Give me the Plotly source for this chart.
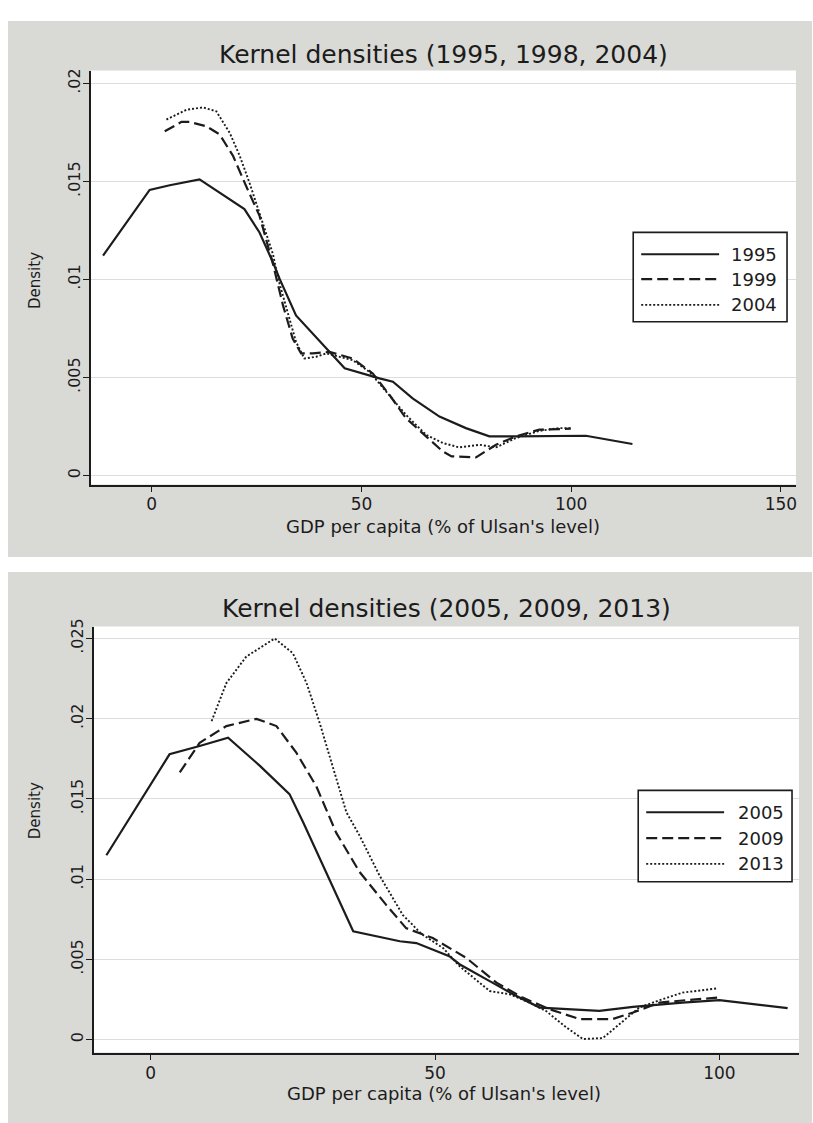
import plotly.graph_objects as go

W, H = 813, 1123

# ---- Upper panel: 1995, 1999, 2004 ----
top_title = "Kernel densities (1995, 1998, 2004)"
top_names = ["1995", "1999", "2004"]

gdp_1995 = [-11.6, -0.5, 4.3, 11.4, 22.1, 25.7, 28.9, 30.5, 34.4, 41.6, 46.0, 54.3,
            57.5, 62.2, 68.6, 74.9, 80.5, 86.8, 100.3, 103.5, 114.6]
den_1995 = [0.01122, 0.01457, 0.01481, 0.01511, 0.01359, 0.0124, 0.01088, 0.01003,
            0.00817, 0.00648, 0.00547, 0.00496, 0.00479, 0.00394, 0.00301, 0.00242,
            0.00200, 0.00200, 0.00200, 0.00203, 0.00161]

gdp_1999 = [3.1, 7.1, 9.0, 13.0, 16.2, 19.4, 22.5, 25.7, 28.9, 31.3, 33.6, 35.6, 38.4,
            42.4, 47.9, 52.7, 56.7, 60.6, 65.4, 69.4, 71.5, 77.3, 82.1, 86.8, 92.4, 99.9]
den_1999 = [0.01756, 0.01804, 0.01804, 0.01782, 0.0174, 0.0163, 0.01477, 0.01325,
            0.0108, 0.00868, 0.00699, 0.00623, 0.00623, 0.00631, 0.00597, 0.00521,
            0.00411, 0.00293, 0.00200, 0.00123, 0.00098, 0.00093, 0.00157, 0.00200,
            0.00234, 0.00239]

gdp_2004 = [3.5, 8.3, 12.2, 15.4, 18.6, 21.0, 23.3, 25.7, 28.9, 30.2, 32.1, 34.4, 36.4,
            39.2, 41.6, 47.9, 51.9, 56.7, 60.6, 65.4, 69.4, 73.3, 78.1, 82.1, 86.8,
            92.4, 97.1, 99.9]
den_2004 = [0.01816, 0.01866, 0.01878, 0.01858, 0.01748, 0.0163, 0.01494, 0.01342,
            0.0113, 0.0100, 0.00851, 0.00682, 0.00597, 0.00606, 0.00623, 0.00589,
            0.00529, 0.00411, 0.0031, 0.00208, 0.00166, 0.00144, 0.00157, 0.00144,
            0.00191, 0.00228, 0.00242, 0.00242]

top_xticks = [0, 50, 100, 150]
top_yticks = [0, 0.005, 0.01, 0.015, 0.02]
top_ytext = ["0", ".005", ".01", ".015", ".02"]

# ---- Lower panel: 2005, 2009, 2013 ----
bot_title = "Kernel densities (2005, 2009, 2013)"
bot_names = ["2005", "2009", "2013"]

gdp_2005 = [-7.8, 3.3, 8.6, 13.6, 19.2, 24.4, 26.8, 29.7, 35.6, 43.8, 46.7, 52.5, 54.3,
            59.6, 63.7, 68.4, 78.9, 84.8, 93.5, 100.0, 105.3, 112.0]
den_2005 = [0.01149, 0.01778, 0.0183, 0.01881, 0.01706, 0.0153, 0.01355, 0.01128,
            0.00675, 0.00613, 0.00602, 0.0052, 0.0047, 0.00365, 0.00283, 0.00200,
            0.00179, 0.00204, 0.00231, 0.00246, 0.00225, 0.00196]

gdp_2009 = [5.1, 8.6, 13.3, 18.6, 22.1, 25.6, 29.1, 31.5, 32.6, 36.7, 41.4, 44.9, 49.6,
            55.5, 60.8, 65.4, 70.1, 75.4, 81.2, 84.8, 89.5, 94.1, 99.7]
den_2009 = [0.01665, 0.0185, 0.01954, 0.01999, 0.01954, 0.01788, 0.0158, 0.01376,
            0.0129, 0.01046, 0.0084, 0.00695, 0.00633, 0.00509, 0.00355, 0.00262,
            0.0019, 0.00128, 0.00128, 0.00169, 0.00231, 0.00246, 0.00262]

gdp_2013 = [10.7, 13.3, 16.8, 21.8, 25.0, 27.4, 29.7, 32.0, 34.4, 36.7, 40.2, 44.3, 47.6,
            51.4, 54.3, 59.6, 63.1, 66.6, 69.5, 73.1, 76.0, 79.5, 82.4, 85.9, 89.5,
            93.5, 99.7]
den_2013 = [0.01985, 0.02222, 0.02387, 0.025, 0.02407, 0.02222, 0.01974, 0.01706,
            0.01417, 0.01273, 0.01025, 0.00778, 0.00659, 0.00571, 0.00458, 0.00303,
            0.00283, 0.00231, 0.00179, 0.00076, 0.00004, 0.0001, 0.00097, 0.002,
            0.00246, 0.00293, 0.0032]

bot_xticks = [0, 50, 100]
bot_yticks = [0, 0.005, 0.01, 0.015, 0.02, 0.025]
bot_ytext = ["0", ".005", ".01", ".015", ".02", ".025"]

x_label = "GDP per capita (% of Ulsan's level)"
y_label = "Density"

# ---- styling ----
FONT = "DejaVu Sans"
INK = "#1c1c1c"
PANEL = "#d9d9d6"
GRID = "#dcdcdc"
styles = [dict(dash="solid", width=2.2),
          dict(dash="11px,5px", width=2.2),
          dict(dash="2px,2px", width=1.9)]


def px_x(p):
    return p / W


def px_y(p):
    return 1 - p / H


fig = go.Figure()

panels = [
    dict(ax="", names=top_names, xs=[gdp_1995, gdp_1999, gdp_2004],
         ys=[den_1995, den_1999, den_2004]),
    dict(ax="2", names=bot_names, xs=[gdp_2005, gdp_2009, gdp_2013],
         ys=[den_2005, den_2009, den_2013]),
]
for pnl in panels:
    for name, xs, ys, st in zip(pnl["names"], pnl["xs"], pnl["ys"], styles):
        fig.add_trace(go.Scatter(
            x=xs, y=ys, name=name, mode="lines",
            line=dict(color=INK, width=st["width"], dash=st["dash"]),
            xaxis="x" + pnl["ax"], yaxis="y" + pnl["ax"], showlegend=False))

axis_common = dict(showline=True, linecolor=INK, linewidth=1.6, ticks="outside",
                   ticklen=6, tickwidth=1.4, tickcolor=INK, zeroline=False)
xtick_font = dict(family=FONT, size=17, color=INK)
ytick_font = dict(family=FONT, size=16, color=INK)

fig.update_layout(
    width=W, height=H,
    margin=dict(l=0, r=0, t=0, b=0),
    paper_bgcolor="white",
    plot_bgcolor="rgba(0,0,0,0)",
    showlegend=False,
    xaxis=dict(domain=[px_x(91), px_x(797)], range=[-14.5, 153.6],
               tickvals=top_xticks, showgrid=False, anchor="y",
               tickfont=xtick_font, ticklabelstandoff=-3, **axis_common),
    yaxis=dict(domain=[px_y(480), px_y(63)], range=[-0.00046, 0.02066],
               tickvals=top_yticks, ticktext=top_ytext, tickangle=-90,
               showgrid=True, gridcolor=GRID, gridwidth=1, anchor="x",
               tickfont=ytick_font, ticklabelstandoff=-3, **axis_common),
    xaxis2=dict(domain=[px_x(94), px_x(800)], range=[-10.0, 114.0],
                tickvals=bot_xticks, showgrid=False, anchor="y2",
                tickfont=xtick_font, ticklabelstandoff=-2, **axis_common),
    yaxis2=dict(domain=[px_y(1052), px_y(623)], range=[-0.0008, 0.02574],
                tickvals=bot_yticks, ticktext=bot_ytext, tickangle=-90,
                showgrid=True, gridcolor=GRID, gridwidth=1, anchor="x2",
                tickfont=ytick_font, ticklabelstandoff=-3, **axis_common),
)

shapes = [
    # grey graph regions
    dict(type="rect", xref="paper", yref="paper", x0=px_x(8), x1=1,
         y0=px_y(553), y1=px_y(13), fillcolor=PANEL, line=dict(width=0), layer="below"),
    dict(type="rect", xref="paper", yref="paper", x0=px_x(8), x1=1,
         y0=0, y1=px_y(568), fillcolor=PANEL, line=dict(width=0), layer="below"),
    # white plot regions
    dict(type="rect", xref="x domain", yref="y domain", x0=0, x1=1, y0=0, y1=1,
         fillcolor="white", line=dict(width=0), layer="below"),
    dict(type="rect", xref="x2 domain", yref="y2 domain", x0=0, x1=1, y0=0, y1=1,
         fillcolor="white", line=dict(width=0), layer="below"),
]

annotations = []

# titles and axis titles
for title, cy, cx in [(top_title, 47, 444), (bot_title, 605, 447)]:
    annotations.append(dict(text=title, x=px_x(cx), y=px_y(cy), xref="paper", yref="paper",
                            showarrow=False, xanchor="center", yanchor="middle",
                            font=dict(family=FONT, size=25, color=INK)))
for cy, cx in [(522, 444), (1093, 445)]:
    annotations.append(dict(text=x_label, x=px_x(cx), y=px_y(cy), xref="paper", yref="paper",
                            showarrow=False, xanchor="center", yanchor="middle",
                            font=dict(family=FONT, size=18, color=INK)))
for cy in [274, 808]:
    annotations.append(dict(text=y_label, x=px_x(35), y=px_y(cy), xref="paper", yref="paper",
                            showarrow=False, xanchor="center", yanchor="middle", textangle=-90,
                            font=dict(family=FONT, size=15, color=INK)))

# boxed keys
keys = [
    dict(names=top_names, box=(634, 226, 788, 316), rows=[248, 273, 299], line=(642, 720), text=730),
    dict(names=bot_names, box=(639, 788, 793, 880), rows=[810, 836, 862], line=(647, 725), text=737),
]
for k in keys:
    bx0, by0, bx1, by1 = k["box"]
    shapes.append(dict(type="rect", xref="paper", yref="paper", x0=px_x(bx0), x1=px_x(bx1),
                       y0=px_y(by1), y1=px_y(by0), fillcolor="white",
                       line=dict(color=INK, width=1.6), layer="above"))
    for name, ry, st in zip(k["names"], k["rows"], styles):
        shapes.append(dict(type="line", xref="paper", yref="paper",
                           x0=px_x(k["line"][0]), x1=px_x(k["line"][1]),
                           y0=px_y(ry), y1=px_y(ry),
                           line=dict(color=INK, width=st["width"], dash=st["dash"]),
                           layer="above"))
        annotations.append(dict(text=name, x=px_x(k["text"]), y=px_y(ry), xref="paper",
                                yref="paper", showarrow=False, xanchor="left",
                                yanchor="middle", font=dict(family=FONT, size=18, color=INK)))

fig.update_layout(shapes=shapes, annotations=annotations)

fig.write_html("out.html")
